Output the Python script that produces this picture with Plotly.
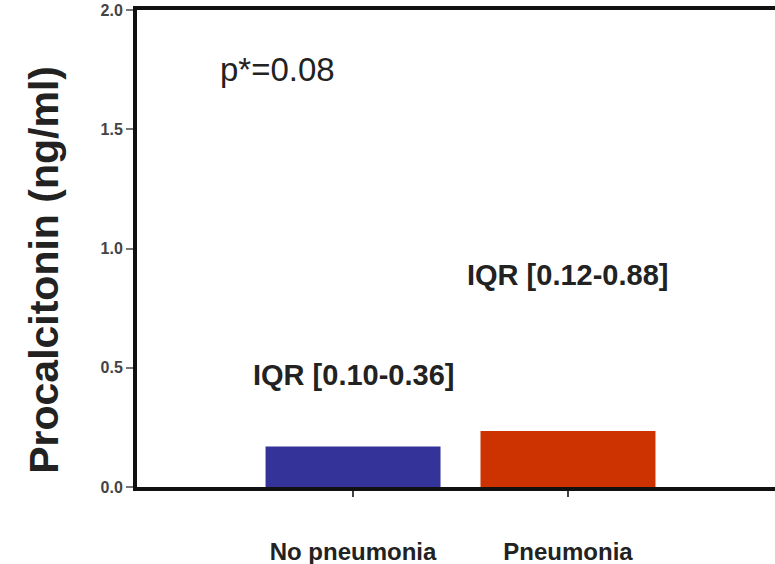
import plotly.graph_objects as go

# Median procalcitonin by group
categories = ["No pneumonia", "Pneumonia"]
medians = [0.17, 0.235]
bar_colors = ["#333399", "#CC3300"]
iqr_labels = ["IQR [0.10-0.36]", "IQR [0.12-0.88]"]
iqr_label_y = [0.47, 0.89]
p_value_text = "p*=0.08"
y_ticks = [0.0, 0.5, 1.0, 1.5, 2.0]

FONT = "Arial, Liberation Sans, sans-serif"

fig = go.Figure()
fig.add_trace(go.Bar(
    x=categories,
    y=medians,
    width=0.814,
    marker=dict(color=bar_colors, line=dict(width=0)),
    showlegend=False,
    hoverinfo="skip",
))

for cat, label, ly in zip(categories, iqr_labels, iqr_label_y):
    fig.add_annotation(
        x=cat, y=ly, xref="x", yref="y", text=label, showarrow=False,
        font=dict(family=FONT, size=29, color="#222222", weight="bold"),
        xanchor="center", yanchor="middle",
    )

fig.add_annotation(
    x=-0.35, y=1.75, xref="x", yref="y", text=p_value_text, showarrow=False,
    font=dict(family=FONT, size=33, color="#222222"),
    xanchor="center", yanchor="middle",
)

# Y-axis title placed as a rotated annotation
fig.add_annotation(
    x=-0.146, y=0.455, xref="paper", yref="paper",
    text="Procalcitonin (ng/ml)", textangle=-90, showarrow=False,
    font=dict(family=FONT, size=41, color="#222222", weight="bold"),
    xanchor="center", yanchor="middle",
)

fig.update_layout(
    width=775, height=564,
    margin=dict(l=137, r=0, t=10, b=77),
    paper_bgcolor="white", plot_bgcolor="white",
    font=dict(family=FONT),
)

fig.update_xaxes(
    type="category",
    range=[-1.005, 1.963],
    automargin=False,
    showline=True, linecolor="#111111", linewidth=3.5, mirror=True,
    ticks="outside", ticklen=6, tickwidth=2, tickcolor="#444444",
    tickfont=dict(family=FONT, size=24, color="#222222", weight="bold"),
    ticklabelstandoff=34,
    showgrid=False, zeroline=False,
)

fig.update_yaxes(
    range=[0, 2.0],
    automargin=False,
    tickvals=y_ticks,
    ticktext=[f"{v:.1f}" for v in y_ticks],
    showline=True, linecolor="#111111", linewidth=4,
    ticks="outside", ticklen=7, tickwidth=1.5, tickcolor="#777777",
    tickfont=dict(family=FONT, size=16, color="#444444", weight="bold"),
    showgrid=False, zeroline=False,
)

fig.write_html("out.html")
